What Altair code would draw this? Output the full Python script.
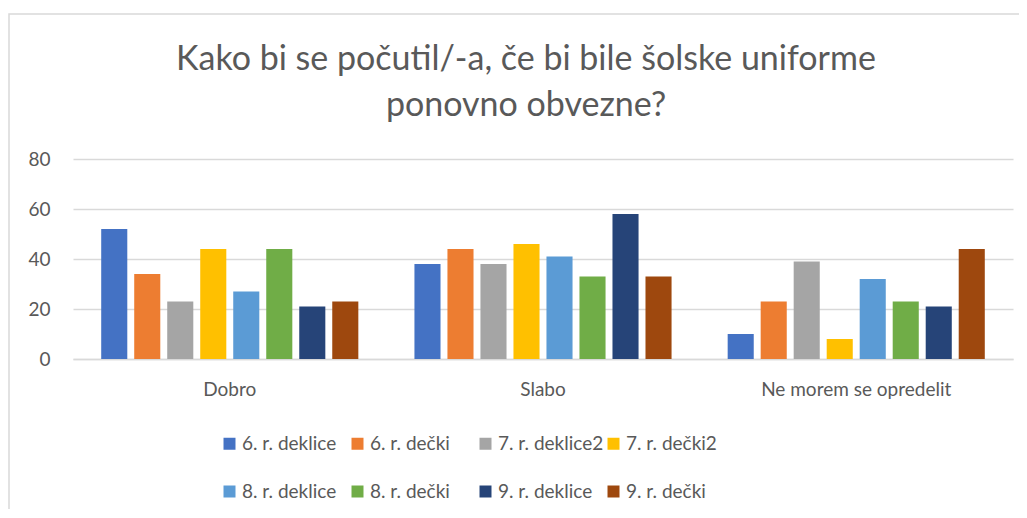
import altair as alt
import pandas as pd

categories = ["Dobro", "Slabo", "Ne morem se opredelit"]
series = ["6. r. deklice", "6. r. dečki", "7. r. deklice2", "7. r. dečki2",
          "8. r. deklice", "8. r. dečki", "9. r. deklice", "9. r. dečki"]
values_dobro = [52, 34, 23, 44, 27, 44, 21, 23]
values_slabo = [38, 44, 38, 46, 41, 33, 58, 33]
values_ne = [10, 23, 39, 8, 32, 23, 21, 44]
colors = ["#4472C4", "#ED7D31", "#A5A5A5", "#FFC000",
          "#5B9BD5", "#70AD47", "#264478", "#9E480E"]
title_lines = ["Kako bi se počutil/-a, če bi bile šolske uniforme", "ponovno obvezne?"]

rows = []
for cat, vals in zip(categories, [values_dobro, values_slabo, values_ne]):
    for s, v in zip(series, vals):
        rows.append({"kategorija": cat, "serija": s, "vrednost": v})
df = pd.DataFrame(rows)

FONT = "Lato"
GREY = "#595959"

bars = alt.Chart(df).mark_bar().encode(
    x=alt.X("kategorija:N", sort=categories, title=None,
            scale=alt.Scale(paddingInner=0.157, paddingOuter=0.079),
            axis=alt.Axis(labelAngle=0, labelFontSize=19, labelColor=GREY, labelFont=FONT,
                          labelPadding=21, labelLimit=500, ticks=False,
                          domainColor="#d9d9d9", domainWidth=1.5)),
    xOffset=alt.XOffset("serija:N", sort=series,
                        scale=alt.Scale(paddingInner=0.21, paddingOuter=0.105)),
    y=alt.Y("vrednost:Q", title=None,
            scale=alt.Scale(domain=[0, 80]),
            axis=alt.Axis(values=[0, 20, 40, 60, 80], labelFontSize=19, labelColor=GREY,
                          labelFont=FONT, labelPadding=23, ticks=False, domain=False,
                          gridColor="#d9d9d9", gridWidth=1.5)),
    color=alt.Color("serija:N", sort=series,
                    scale=alt.Scale(domain=series, range=colors),
                    legend=alt.Legend(title=None, orient="none", legendX=147, legendY=275,
                                      columns=4, direction="horizontal", gridAlign="all",
                                      symbolType="square",
                                      symbolSize=144, symbolStrokeWidth=0, labelFontSize=19,
                                      labelFont=FONT, labelColor=GREY, columnPadding=-2,
                                      rowPadding=28, labelOffset=3, padding=0)),
)

border = alt.Chart(pd.DataFrame({"a": [0]})).mark_rect(
    fill=None, stroke="#d9d9d9", strokeWidth=1.5
).encode(x=alt.value(-64), x2=alt.value(2000), y=alt.value(-145), y2=alt.value(2000))

chart = alt.layer(border, bars).properties(
    width=940, height=200,
    autosize=alt.AutoSizeParams(type="none"),
    padding={"left": 65, "top": 151, "right": 6, "bottom": 150},
    title=alt.TitleParams(text=title_lines, fontSize=34, font=FONT, fontWeight="normal",
                          color=GREY, lineHeight=46, anchor="middle", dx=-17, offset=-110,
                          frame="group"),
).configure_view(stroke=None)

chart.save("out.html", embed_options={"renderer": "svg", "actions": False})
